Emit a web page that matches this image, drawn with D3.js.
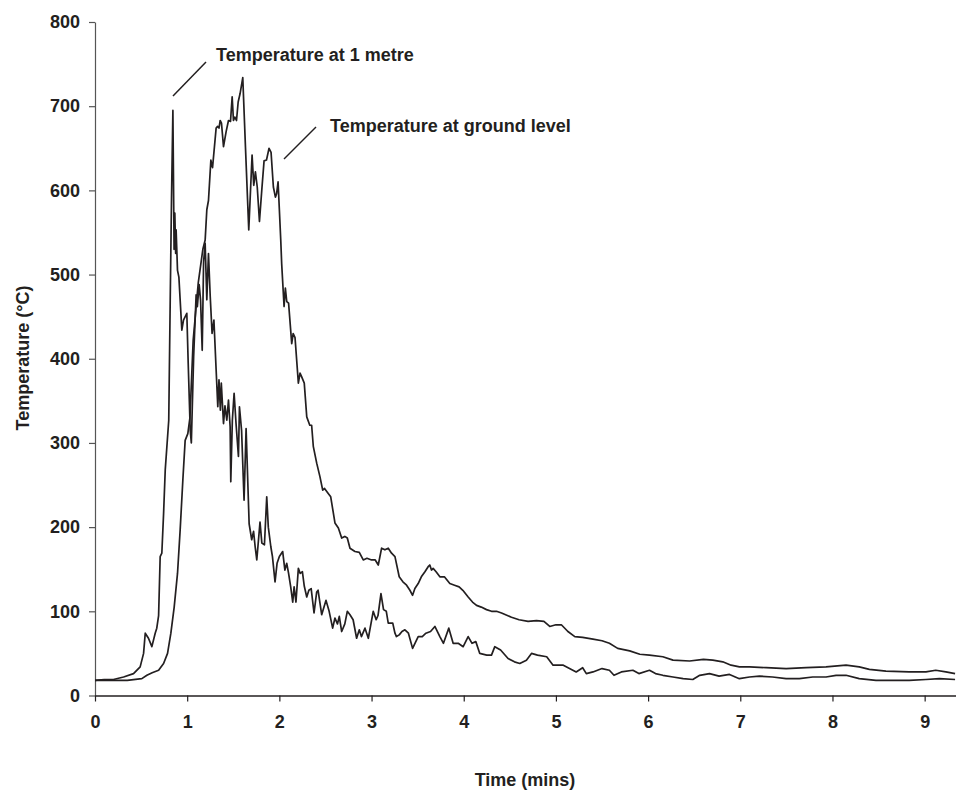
<!DOCTYPE html>
<html>
<head>
<meta charset="utf-8">
<script src="https://cdn.jsdelivr.net/npm/d3@7"></script>
<style>
  html, body { margin: 0; padding: 0; background: #fff; }
  svg { display: block; }
  text { font-family: "Liberation Sans", Arial, sans-serif; font-weight: bold; fill: #231f20; }
</style>
</head>
<body>
<svg id="chart" width="956" height="790"></svg>
<script>
const yTicks = [0, 100, 200, 300, 400, 500, 600, 700, 800];
const xTicks = [0, 1, 2, 3, 4, 5, 6, 7, 8, 9];
const xTitle = "Time (mins)";
const yTitle = "Temperature (°C)";
const labelMetre = "Temperature at 1 metre";
const labelGround = "Temperature at ground level";

const metreTime = [0,0.1,0.2,0.31,0.418,0.49,0.527,0.545,0.58,0.617,0.653,0.67,0.69,0.707,0.725,0.744,0.762,0.8,0.816,0.83,0.845,0.858,0.866,0.875,0.88,0.895,0.91,0.942,0.96,0.996,1.011,1.033,1.045,1.07,1.097,1.11,1.13,1.145,1.163,1.178,1.195,1.213,1.231,1.25,1.27,1.29,1.314,1.332,1.345,1.36,1.37,1.394,1.41,1.43,1.448,1.466,1.473,1.49,1.509,1.53,1.556,1.567,1.59,1.617,1.639,1.672,1.7,1.72,1.737,1.755,1.79,1.81,1.838,1.863,1.88,1.907,1.925,1.953,1.975,2.0,2.036,2.06,2.08,2.1,2.123,2.145,2.16,2.18,2.206,2.226,2.25,2.27,2.297,2.32,2.345,2.376,2.405,2.42,2.459,2.506,2.54,2.578,2.603,2.63,2.65,2.676,2.71,2.737,2.766,2.8,2.838,2.867,2.89,2.929,2.965,3.018,3.05,3.07,3.102,3.13,3.16,3.181,3.23,3.254,3.27,3.3,3.33,3.362,3.4,3.445,3.506,3.55,3.59,3.64,3.687,3.741,3.78,3.838,3.885,3.94,3.994,4.048,4.09,4.131,4.174,4.25,4.301,4.337,4.4,4.481,4.55,4.608,4.68,4.735,4.8,4.9,4.969,5.08,5.22,5.29,5.33,5.402,5.5,5.58,5.63,5.71,5.835,5.9,6.015,6.08,6.16,6.27,6.38,6.485,6.56,6.666,6.77,6.883,6.99,7.1,7.208,7.35,7.497,7.64,7.786,7.93,8.039,8.147,8.29,8.472,8.652,8.833,9.014,9.16,9.33];
const metreTemp = [18,19,19,22,26,34,50,74,68,58,74,80,95,165,169,216,268,327,470,590,695,530,573,525,553,505,497,434,446,454,395,315,300,402,476,462,488,470,410,515,537,470,525,474,430,446,387,343,375,339,371,323,344,327,351,319,254,327,359,323,284,343,315,232,317,204,185,195,177,161,206,181,179,236,200,177,165,135,157,165,171,149,157,145,129,111,129,111,151,145,147,130,117,125,127,98,123,125,96,113,100,80,92,85,94,76,85,100,96,90,68,78,70,80,68,100,90,95,121,102,100,86,86,74,70,72,76,78,74,56,70,70,74,76,82,70,62,80,62,62,58,70,62,64,50,48,48,58,54,44,40,38,42,50,48,46,36,36,28,33,26,28,32,30,24,28,30,26,30,26,24,22,20,19,24,26,23,25,20,22,23,22,20,20,22,22,24,24,20,18,18,18,19,20,19];

const groundTime = [0,0.2,0.35,0.508,0.563,0.62,0.69,0.744,0.787,0.823,0.859,0.895,0.924,0.953,0.978,1.007,1.03,1.065,1.12,1.17,1.195,1.213,1.231,1.257,1.275,1.314,1.33,1.345,1.358,1.372,1.394,1.423,1.448,1.47,1.488,1.502,1.517,1.535,1.553,1.574,1.603,1.632,1.668,1.704,1.722,1.74,1.76,1.784,1.809,1.834,1.86,1.888,1.91,1.935,1.957,1.97,1.986,2.0,2.015,2.025,2.051,2.065,2.08,2.1,2.134,2.15,2.17,2.206,2.224,2.24,2.27,2.297,2.33,2.35,2.368,2.405,2.44,2.47,2.49,2.53,2.557,2.603,2.64,2.676,2.71,2.737,2.766,2.82,2.867,2.91,2.95,3.0,3.04,3.073,3.109,3.145,3.181,3.217,3.254,3.3,3.34,3.38,3.416,3.445,3.47,3.506,3.54,3.579,3.614,3.632,3.65,3.668,3.7,3.741,3.79,3.849,3.9,3.95,3.99,4.048,4.095,4.139,4.19,4.247,4.301,4.355,4.41,4.518,4.6,4.698,4.789,4.87,4.933,5.0,5.059,5.13,5.205,5.29,5.402,5.5,5.58,5.67,5.8,5.91,6.015,6.16,6.27,6.45,6.6,6.702,6.81,6.9,6.991,7.1,7.281,7.497,7.714,7.93,8.147,8.29,8.4,8.58,8.833,9.014,9.12,9.23,9.33];
const groundTemp = [18,18,18,20,24,27,30,38,50,74,105,145,197,256,303,311,330,422,490,530,541,577,588,636,627,674,676,674,683,680,652,670,683,682,711,683,687,683,705,715,734,652,553,642,606,622,604,563,600,635,636,650,645,604,592,596,610,577,541,513,462,484,468,466,418,430,425,371,383,379,371,331,321,321,296,276,260,244,246,240,236,205,199,187,189,187,175,171,170,161,163,161,161,155,175,173,175,169,165,141,135,131,125,119,127,133,141,147,153,155,149,151,147,141,141,133,131,129,125,117,111,107,105,102,100,100,98,93,90,88,89,88,82,84,84,76,70,69,67,65,62,56,53,49,48,46,42,41,43,42,40,36,34,34,33,32,33,34,36,34,31,29,28,28,30,28,26];

const svg = d3.select("#chart");
const x = d3.scaleLinear().domain([0, 9.34]).range([95, 956]);
const y = d3.scaleLinear().domain([0, 800]).range([695.5, 22]);
const FS = 18;
const FONT = "'Liberation Sans', Arial, sans-serif";

// Y axis
const yAxis = svg.append("g").attr("transform", "translate(95,0)")
  .call(d3.axisLeft(y).tickValues(yTicks).tickSize(6).tickPadding(9).tickSizeOuter(0));
yAxis.select(".domain").attr("stroke", "#555").attr("stroke-width", 1.2);
yAxis.selectAll(".tick line").attr("stroke", "#555").attr("stroke-width", 1.2);
yAxis.selectAll(".tick text").style("font-size", FS + "px").attr("fill", "#231f20")
  .style("font-family", FONT).style("font-weight", "bold");

// X axis
const xAxis = svg.append("g").attr("transform", "translate(0,695.5)")
  .call(d3.axisBottom(x).tickValues(xTicks).tickSize(6).tickPadding(14).tickSizeOuter(0));
xAxis.select(".domain").attr("stroke", "#231f20").attr("stroke-width", 1.5);
xAxis.selectAll(".tick line").attr("stroke", "#231f20").attr("stroke-width", 1.2);
xAxis.selectAll(".tick text").style("font-size", FS + "px").attr("fill", "#231f20")
  .style("font-family", FONT).style("font-weight", "bold");

// Titles
svg.append("text").attr("x", 525).attr("y", 786).attr("text-anchor", "middle")
  .style("font-size", FS + "px").text(xTitle);
svg.append("text").attr("transform", "translate(29,358) rotate(-90)").attr("text-anchor", "middle")
  .style("font-size", FS + "px").text(yTitle);

// Lines
const line = d3.line().x(d => x(d[0])).y(d => y(d[1]));
const metreData = metreTime.map((t, i) => [t, metreTemp[i]]);
const groundData = groundTime.map((t, i) => [t, groundTemp[i]]);
svg.append("path").datum(groundData).attr("d", line)
  .attr("fill", "none").attr("stroke", "#231f20").attr("stroke-width", 1.7).attr("stroke-linejoin", "round");
svg.append("path").datum(metreData).attr("d", line)
  .attr("fill", "none").attr("stroke", "#231f20").attr("stroke-width", 1.7).attr("stroke-linejoin", "round");

// Annotations
svg.append("line").attr("x1", 173).attr("y1", 96).attr("x2", 206).attr("y2", 62)
  .attr("stroke", "#231f20").attr("stroke-width", 1.5);
svg.append("text").attr("x", 216).attr("y", 61).style("font-size", FS + "px").text(labelMetre);
svg.append("line").attr("x1", 284).attr("y1", 159).attr("x2", 316).attr("y2", 127)
  .attr("stroke", "#231f20").attr("stroke-width", 1.5);
svg.append("text").attr("x", 330).attr("y", 132).style("font-size", FS + "px").text(labelGround);
</script>
</body>
</html>
